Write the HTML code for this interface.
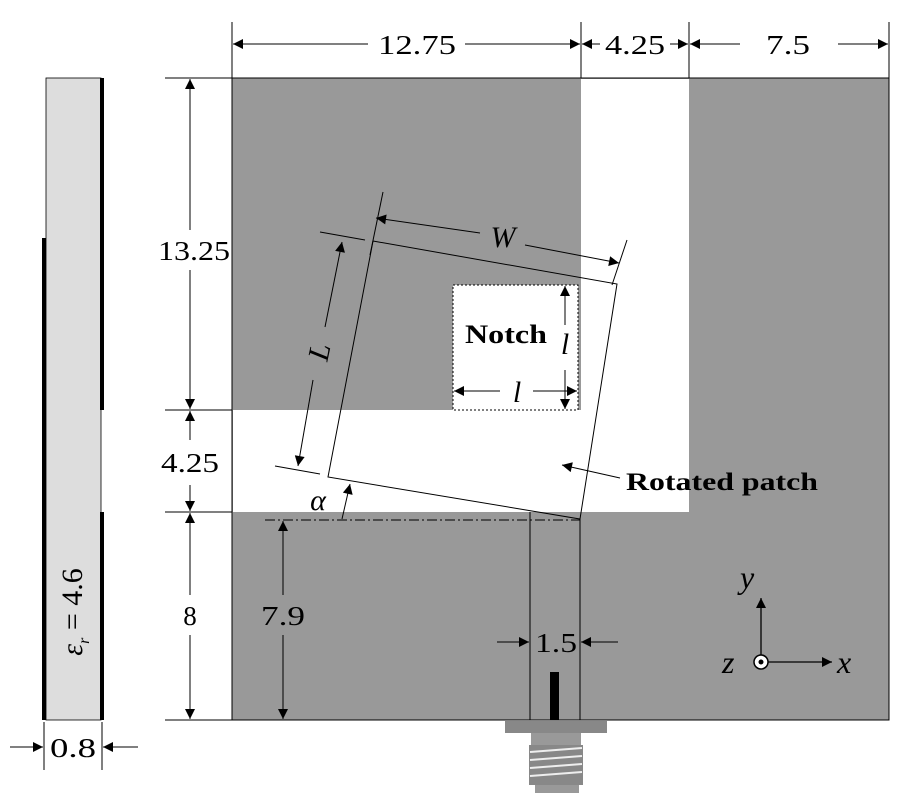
<!DOCTYPE html><html><head><style>body{margin:0;background:#fff}svg{display:block}</style></head><body>
<svg width="900" height="800" xmlns="http://www.w3.org/2000/svg" font-family="'Liberation Serif', serif">
<defs><marker id="a" viewBox="0 0 10 10" refX="10" refY="5" markerWidth="16" markerHeight="10" orient="auto-start-reverse" markerUnits="userSpaceOnUse"><path d="M0,0L10,5L0,10z" fill="#000"/></marker></defs>
<rect x="232" y="78" width="657" height="642" fill="#999" stroke="#000" stroke-width="1"/>
<rect x="581" y="79" width="108" height="433" fill="#fff"/>
<rect x="233" y="410" width="456" height="102" fill="#fff"/>
<rect x="453" y="285" width="125" height="125" fill="#fff" stroke="#000" stroke-dasharray="2,2"/>
<polygon points="373,241 617,284 580,519 328,477" fill="none" stroke="#000" stroke-width="1"/>
<line x1="530" y1="512" x2="530" y2="720" stroke="#000"/><line x1="580" y1="519" x2="580" y2="720" stroke="#000"/>
<line x1="265" y1="520" x2="580" y2="520" stroke="#000" stroke-dasharray="10,3,2,3"/>
<rect x="550" y="672" width="9" height="48" fill="#000"/>
<rect x="505" y="721" width="102" height="12" fill="#888"/>
<rect x="531" y="733" width="50" height="12" fill="#999"/>
<rect x="529" y="745" width="54" height="40" fill="#888"/>
<g stroke="#eee" stroke-width="2"><line x1="530" y1="752" x2="582" y2="748"/><line x1="530" y1="760" x2="582" y2="756"/><line x1="530" y1="768" x2="582" y2="764"/><line x1="530" y1="776" x2="582" y2="772"/></g>
<rect x="535" y="785" width="44" height="8" fill="#999"/>
<rect x="46" y="78" width="55" height="642" fill="#ddd" stroke="#000" stroke-width="0.8"/>
<g stroke="#000" stroke-width="4"><line x1="102" y1="78" x2="102" y2="410"/><line x1="102" y1="512" x2="102" y2="720"/><line x1="44" y1="238" x2="44" y2="720"/></g>
<text transform="translate(82,612) rotate(-90)" font-size="30" text-anchor="middle"><tspan font-style="italic">ε</tspan><tspan font-size="16" font-style="italic" dy="7">r</tspan><tspan dy="-7"> = 4.6</tspan></text>
<g stroke="#000"><line x1="44" y1="722" x2="44" y2="770"/><line x1="102" y1="722" x2="102" y2="770"/>
<line x1="10" y1="747" x2="43" y2="747" marker-end="url(#a)"/><line x1="138" y1="747" x2="103" y2="747" marker-end="url(#a)"/></g>
<g lengthAdjust="spacingAndGlyphs">
<text x="73" y="757" font-size="27" text-anchor="middle" textLength="46" lengthAdjust="spacingAndGlyphs">0.8</text>
</g>
<g stroke="#000"><line x1="232" y1="22" x2="232" y2="78"/><line x1="581" y1="22" x2="581" y2="78"/><line x1="689" y1="22" x2="689" y2="78"/><line x1="889" y1="22" x2="889" y2="78"/>
<line x1="368" y1="44" x2="233" y2="44" marker-end="url(#a)"/><line x1="465" y1="44" x2="580" y2="44" marker-end="url(#a)"/>
<line x1="600" y1="44" x2="582" y2="44" marker-end="url(#a)"/><line x1="670" y1="44" x2="688" y2="44" marker-end="url(#a)"/>
<line x1="740" y1="44" x2="690" y2="44" marker-end="url(#a)"/><line x1="838" y1="44" x2="888" y2="44" marker-end="url(#a)"/></g>
<g font-size="27" text-anchor="middle"><text x="417" y="54" textLength="78" lengthAdjust="spacingAndGlyphs">12.75</text><text x="635" y="54" textLength="60" lengthAdjust="spacingAndGlyphs">4.25</text><text x="788" y="54" textLength="44" lengthAdjust="spacingAndGlyphs">7.5</text></g>
<g stroke="#000"><line x1="165" y1="78" x2="232" y2="78"/><line x1="165" y1="410" x2="232" y2="410"/><line x1="165" y1="512" x2="232" y2="512"/><line x1="165" y1="720" x2="232" y2="720"/>
<line x1="190" y1="230" x2="190" y2="79" marker-end="url(#a)"/><line x1="190" y1="270" x2="190" y2="409" marker-end="url(#a)"/>
<line x1="190" y1="440" x2="190" y2="411" marker-end="url(#a)"/><line x1="190" y1="485" x2="190" y2="511" marker-end="url(#a)"/>
<line x1="190" y1="595" x2="190" y2="513" marker-end="url(#a)"/><line x1="190" y1="635" x2="190" y2="719" marker-end="url(#a)"/>
<line x1="283" y1="595" x2="283" y2="521" marker-end="url(#a)"/><line x1="283" y1="635" x2="283" y2="719" marker-end="url(#a)"/></g>
<g font-size="27" text-anchor="middle"><text x="194" y="260" textLength="72" lengthAdjust="spacingAndGlyphs">13.25</text><text x="190" y="472" textLength="58" lengthAdjust="spacingAndGlyphs">4.25</text><text x="190" y="625">8</text><text x="283" y="625" textLength="44" lengthAdjust="spacingAndGlyphs">7.9</text></g>
<g stroke="#000"><line x1="383" y1="192" x2="370" y2="255"/><line x1="627" y1="240" x2="612" y2="285"/>
<line x1="480" y1="233" x2="376" y2="218" marker-end="url(#a)"/><line x1="525" y1="245" x2="619" y2="263" marker-end="url(#a)"/>
<line x1="320" y1="232" x2="365" y2="240"/><line x1="275" y1="466" x2="320" y2="474"/>
<line x1="325" y1="327" x2="342" y2="242" marker-end="url(#a)"/><line x1="313" y1="380" x2="298" y2="466" marker-end="url(#a)"/>
<line x1="565" y1="325" x2="565" y2="286" marker-end="url(#a)"/><line x1="565" y1="370" x2="565" y2="409" marker-end="url(#a)"/>
<line x1="500" y1="391" x2="454" y2="391" marker-end="url(#a)"/><line x1="533" y1="391" x2="577" y2="391" marker-end="url(#a)"/>
<line x1="342" y1="519" x2="350" y2="484" marker-end="url(#a)"/>
<line x1="620" y1="478" x2="562" y2="465" marker-end="url(#a)"/>
<line x1="497" y1="642" x2="529" y2="642" marker-end="url(#a)"/><line x1="618" y1="642" x2="581" y2="642" marker-end="url(#a)"/></g>
<g font-size="30" font-style="italic" text-anchor="middle"><text x="503" y="247">W</text><text transform="translate(329,354) rotate(-78)">L</text><text x="565" y="354">l</text><text x="517" y="402">l</text><text x="318" y="510">α</text></g>
<text x="506" y="343" font-size="26" font-weight="bold" text-anchor="middle" textLength="82" lengthAdjust="spacingAndGlyphs">Notch</text>
<text x="626" y="490" font-size="25" font-weight="bold" textLength="192" lengthAdjust="spacingAndGlyphs">Rotated patch</text>
<text x="556" y="652" font-size="27" text-anchor="middle" textLength="42" lengthAdjust="spacingAndGlyphs">1.5</text>
<g stroke="#000" stroke-width="1.3"><line x1="761" y1="655" x2="761" y2="598" marker-end="url(#a)"/><line x1="768" y1="662" x2="832" y2="662" marker-end="url(#a)"/></g>
<circle cx="761" cy="662" r="7" fill="#fff" stroke="#000" stroke-width="1.5"/><circle cx="761" cy="662" r="2.5" fill="#000"/>
<g font-size="32" font-style="italic"><text x="740" y="588">y</text><text x="837" y="673">x</text><text x="722" y="673">z</text></g>
</svg></body></html>
